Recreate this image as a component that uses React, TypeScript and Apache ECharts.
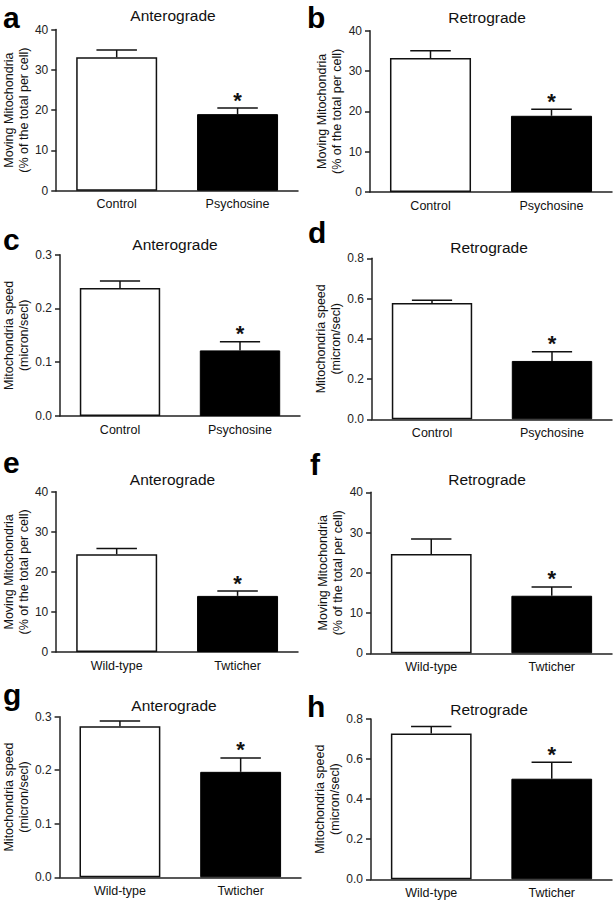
import React, { useEffect, useRef } from "react";
import * as echarts from "echarts";

// ---- Data ----
const panelLetters = ["a", "b", "c", "d", "e", "f", "g", "h"];
const panelTitles = [
  "Anterograde", "Retrograde",
  "Anterograde", "Retrograde",
  "Anterograde", "Retrograde",
  "Anterograde", "Retrograde",
];
const categoriesPsychosine = ["Control", "Psychosine"];
const categoriesTwitcher = ["Wild-type", "Twticher"];
const yNameMoving = "Moving Mitochondria\n(% of the total per cell)";
const yNameSpeed = "Mitochondria speed\n(micron/secl)";

const meansA = [33.1, 19.0];
const errA = [1.8, 1.5];
const meansB = [33.2, 18.9];
const errB = [1.8, 1.6];
const meansC = [0.238, 0.122];
const errC = [0.013, 0.016];
const meansD = [0.578, 0.29];
const errD = [0.013, 0.046];
const meansE = [24.4, 14.0];
const errE = [1.4, 1.2];
const meansF = [24.7, 14.3];
const errF = [3.7, 2.2];
const meansG = [0.282, 0.197];
const errG = [0.01, 0.026];
const meansH = [0.728, 0.502];
const errH = [0.035, 0.082];
const significant = [false, true];

const yMaxes = [40, 40, 0.3, 0.8, 40, 40, 0.3, 0.8];
const yIntervals = [10, 10, 0.1, 0.2, 10, 10, 0.1, 0.2];
const yDecimals = [0, 0, 1, 1, 0, 0, 1, 1];

const FONT = "'Liberation Sans', Arial, Helvetica, sans-serif";

// layout (positions only)
const grids = [
  { left: 55, top: 29.5, width: 243, height: 161.2 },
  { left: 370, top: 30.7, width: 242, height: 161.3 },
  { left: 57, top: 254.7, width: 243, height: 161.3 },
  { left: 372, top: 258.3, width: 240, height: 161 },
  { left: 56, top: 491.7, width: 242, height: 160.3 },
  { left: 371, top: 492.3, width: 241, height: 161 },
  { left: 56, top: 716.7, width: 245, height: 160.6 },
  { left: 371, top: 719, width: 241, height: 160.3 },
];
const nameGaps = [22, 23, 29, 27, 23, 24, 28, 26];
const titlePos = [
  [173, 15.6], [487, 17.4], [175, 244], [489, 247.4],
  [172.5, 479], [487, 479], [174, 705.7], [489, 709],
];
const letterPos = [
  [3, 17], [307, 17], [3, 239.5], [308, 232.5],
  [3, 462.5], [310, 464.5], [3, 694], [307, 706.5],
];

export default function App() {
  const ref = useRef<HTMLDivElement>(null);

  useEffect(() => {
    document.body.style.margin = "0";
    if (!ref.current) return;
    const chart = echarts.init(ref.current, null, { renderer: "svg" });

    const means = [meansA, meansB, meansC, meansD, meansE, meansF, meansG, meansH];
    const errs = [errA, errB, errC, errD, errE, errF, errG, errH];
    const cats = [
      categoriesPsychosine, categoriesPsychosine,
      categoriesPsychosine, categoriesPsychosine,
      categoriesTwitcher, categoriesTwitcher,
      categoriesTwitcher, categoriesTwitcher,
    ];
    const yNames = [
      yNameMoving, yNameMoving, yNameSpeed, yNameSpeed,
      yNameMoving, yNameMoving, yNameSpeed, yNameSpeed,
    ];

    const axisLineStyle = { color: "#222", width: 1.5 };

    const grid: any[] = [];
    const xAxis: any[] = [];
    const yAxis: any[] = [];
    const series: any[] = [];
    const graphic: any[] = [];

    for (let i = 0; i < 8; i++) {
      grid.push({ ...grids[i], containLabel: false });
      xAxis.push({
        type: "category",
        gridIndex: i,
        data: cats[i],
        axisLine: { lineStyle: axisLineStyle },
        axisTick: { show: false },
        axisLabel: { fontSize: 12.5, color: "#111", margin: 7, fontFamily: FONT },
      });
      const dec = yDecimals[i];
      yAxis.push({
        type: "value",
        gridIndex: i,
        min: 0,
        max: yMaxes[i],
        interval: yIntervals[i],
        axisLine: { show: true, lineStyle: axisLineStyle },
        axisTick: { show: true, length: 5, lineStyle: axisLineStyle },
        splitLine: { show: false },
        axisLabel: {
          fontSize: 12,
          color: "#222",
          margin: 8,
          fontFamily: FONT,
          formatter: (v: number) => v.toFixed(dec),
        },
        name: yNames[i],
        nameLocation: "middle",
        nameGap: nameGaps[i],
        nameTextStyle: { fontSize: 12.5, lineHeight: 15, color: "#111", fontFamily: FONT },
      });
      series.push({
        type: "bar",
        xAxisIndex: i,
        yAxisIndex: i,
        barWidth: "67%",
        silent: true,
        data: means[i].map((v, j) => ({
          value: v,
          itemStyle:
            j === 0
              ? { color: "#fff", borderColor: "#111", borderWidth: 1.5 }
              : { color: "#000", borderColor: "#000", borderWidth: 1 },
        })),
      });
      series.push({
        type: "custom",
        xAxisIndex: i,
        yAxisIndex: i,
        silent: true,
        z: 5,
        data: means[i].map((v, j) => [j, v, errs[i][j], significant[j] ? 1 : 0]),
        renderItem: (params: any, api: any) => {
          const x = api.value(0);
          const m = api.value(1);
          const e = api.value(2);
          const sig = api.value(3);
          const base = api.coord([x, m]);
          const top = api.coord([x, m + e]);
          const band = api.size([1, 0])[0];
          const half = (band * 0.67) / 4;
          const children: any[] = [
            {
              type: "line",
              shape: { x1: base[0], y1: base[1], x2: top[0], y2: top[1] },
              style: { stroke: "#111", lineWidth: 1.5 },
            },
            {
              type: "line",
              shape: { x1: top[0] - half, y1: top[1], x2: top[0] + half, y2: top[1] },
              style: { stroke: "#111", lineWidth: 1.5 },
            },
          ];
          if (sig) {
            children.push({
              type: "text",
              x: top[0],
              y: top[1] - 8,
              style: {
                text: "*",
                textAlign: "center",
                textVerticalAlign: "middle",
                font: `bold 22px ${FONT}`,
                fill: "#111",
              },
            });
          }
          return { type: "group", children };
        },
      });
      graphic.push({
        type: "text",
        x: titlePos[i][0],
        y: titlePos[i][1],
        style: {
          text: panelTitles[i],
          textAlign: "center",
          textVerticalAlign: "middle",
          font: `15.5px ${FONT}`,
          fill: "#111",
        },
      });
      graphic.push({
        type: "text",
        x: letterPos[i][0],
        y: letterPos[i][1],
        style: {
          text: panelLetters[i],
          textAlign: "left",
          textVerticalAlign: "middle",
          font: `bold 30px ${FONT}`,
          fill: "#000",
        },
      });
    }

    chart.setOption({
      animation: false,
      backgroundColor: "#fff",
      textStyle: { fontFamily: FONT },
      grid,
      xAxis,
      yAxis,
      series,
      graphic,
    });
    return () => chart.dispose();
  }, []);

  return <div ref={ref} style={{ width: 615, height: 900 }} />;
}
